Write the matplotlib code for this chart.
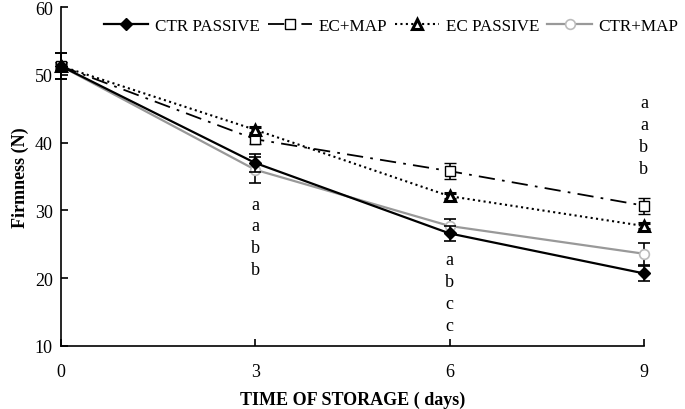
import matplotlib
matplotlib.use("Agg")
import matplotlib.pyplot as plt
from matplotlib.lines import Line2D

plt.rcParams["font.family"] = ["Liberation Serif", "DejaVu Serif"]

# Tage der Lagerung
days = [0, 3, 6, 9]

# Festigkeit (N) und Standardfehler je Behandlung
ctr_passive = [51.3, 37.0, 26.6, 20.7]
ctr_passive_err = [1.9, 1.3, 1.1, 1.1]
ec_map = [51.3, 40.5, 35.8, 30.7]
ec_map_err = [0.6, 0.7, 1.2, 1.2]
ec_passive = [51.3, 41.9, 32.1, 27.7]
ec_passive_err = [0.4, 0.4, 0.4, 0.4]
ctr_map = [51.3, 36.0, 27.7, 23.6]
ctr_map_err = [1.9, 1.9, 1.1, 1.6]

# Signifikanzbuchstaben
letters_3 = ["a", "a", "b", "b"]
letters_6 = ["a", "b", "c", "c"]
letters_9 = ["a", "a", "b", "b"]

fig = plt.figure(figsize=(6.85, 4.1), dpi=100)
ax = fig.add_axes([0.089, 0.154, 0.851, 0.826])

common = dict(capsize=4, elinewidth=1.2, capthick=1.2, clip_on=False)

# Stile pro Serie
st_ctr_passive = dict(color="black", lw=1.6, marker="D", ms=6, mfc="black", mec="black")
st_ec_map = dict(color="black", lw=1.3, linestyle=(0, (9, 4, 1.5, 4)), marker="s",
                 ms=7, mfc="white", mec="black", mew=1.0)
st_ec_passive = dict(color="black", lw=1.5, linestyle=(0, (1, 1.6)), marker="^",
                     ms=7, mfc="white", mec="black", mew=2.2)
st_ctr_map = dict(color="#999999", lw=1.6, marker="o", ms=7, mfc="white",
                  mec="#bbbbbb", mew=1.2)

ax.errorbar(days, ctr_passive, yerr=ctr_passive_err, ecolor="black", zorder=5,
            **st_ctr_passive, **common)
ax.errorbar(days, ec_map, yerr=ec_map_err, ecolor="black", zorder=4,
            **st_ec_map, **common)
ax.errorbar(days, ec_passive, yerr=ec_passive_err, ecolor="black", zorder=4,
            **st_ec_passive, **common)
ax.errorbar(days, ctr_map, yerr=ctr_map_err, ecolor="black", zorder=3,
            **st_ctr_map, **common)

# Buchstaben unter / über den Punkten
for i, t in enumerate(letters_3):
    ax.text(3, 30.9 - i * 3.2, t, ha="center", va="center", fontsize=13)
for i, t in enumerate(letters_6):
    ax.text(6, 22.8 - i * 3.25, t, ha="center", va="center", fontsize=13)
for i, t in enumerate(letters_9):
    ax.text(9, 45.9 - i * 3.25, t, ha="center", va="center", fontsize=13)

ax.set_xlim(0, 9)
ax.set_ylim(10, 60)
ax.set_xticks([0, 3, 6, 9])
ax.set_yticks([10, 20, 30, 40, 50, 60])
ax.tick_params(direction="in", length=5, labelsize=13, pad=12, width=1.2)
ax.tick_params(axis="y", pad=6)
ax.spines["top"].set_visible(False)
ax.spines["right"].set_visible(False)
ax.spines["left"].set_linewidth(1.2)
ax.spines["bottom"].set_linewidth(1.2)

ax.set_xlabel("TIME OF STORAGE ( days)", fontsize=13, fontweight="bold", labelpad=8)
ax.set_ylabel("Firmness (N)", fontsize=13, fontweight="bold", labelpad=4)

# Legende ohne Fehlerbalken
handles = [
    Line2D([], [], **st_ctr_passive, label="CTR PASSIVE"),
    Line2D([], [], **st_ec_map, label="EC+MAP"),
    Line2D([], [], **st_ec_passive, label="EC PASSIVE"),
    Line2D([], [], **st_ctr_map, label="CTR+MAP"),
]
fig.legend(handles=handles, loc="upper right", bbox_to_anchor=(0.998, 0.965),
           ncol=4, frameon=False, fontsize=12.3, handlelength=2.6,
           columnspacing=0.45, handletextpad=0.4, borderaxespad=0, borderpad=0.3)

plt.savefig("out.png", dpi=100)
